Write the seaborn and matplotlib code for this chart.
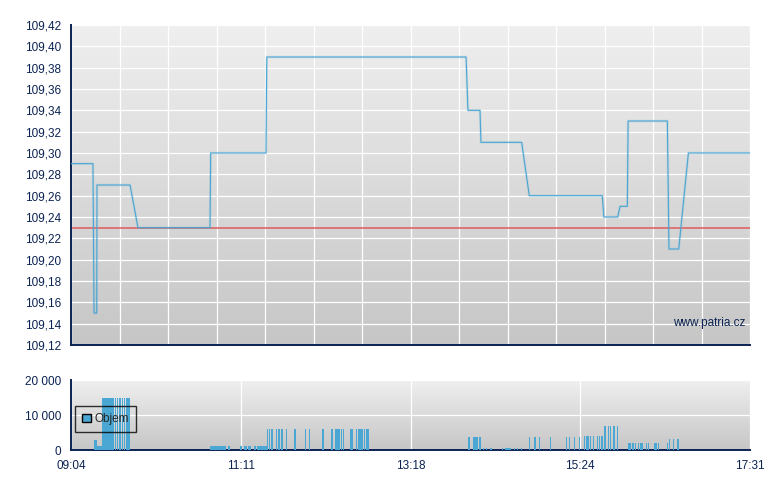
import numpy as np
import pandas as pd
import matplotlib
matplotlib.use("Agg")
import matplotlib.pyplot as plt
import seaborn as sns
from matplotlib.colors import LinearSegmentedColormap
from matplotlib.patches import Patch
from matplotlib.ticker import FuncFormatter

# intraday price, x = minutes after 09:04
price_minute = [0, 16.4, 17.2, 19.2, 19.4, 44.1, 50.0, 103.8, 104.3, 145.6, 146.2,
                295.0, 296.4, 305.4, 306.1, 336.5, 342.2, 396.7, 397.9, 408.2,
                410.0, 415.4, 416.0, 445.3, 446.5, 453.8, 461.0, 507]
price_value = [109.29, 109.29, 109.15, 109.15, 109.27, 109.27, 109.23, 109.23, 109.30,
               109.30, 109.39, 109.39, 109.34, 109.34, 109.31, 109.31, 109.26, 109.26,
               109.24, 109.24, 109.25, 109.25, 109.33, 109.33, 109.21, 109.21, 109.30,
               109.30]
prev_close = 109.23

# volume blocks: start / end minute after 09:04 and traded volume
vol_start = [17.2, 19.2, 23.1, 32.6, 34.3, 36.1, 37.9, 39.6, 41.3,
             103.8, 117.0, 126.2, 129.2, 132.2, 136.9, 138.9,
             146.4, 147.8, 149.1, 153.1, 154.6, 156.8, 160.3, 166.3, 174.7, 177.5,
             187.2, 193.9, 197.1, 201.4, 202.9, 208.1, 212.8, 214.1, 215.3, 218.6, 220.3,
             296.4, 300.2, 304.7,
             307.6, 309.9, 312.9, 321.8, 324.1, 330.8, 333.0, 336.0,
             342.0, 345.7, 349.5, 357.7, 369.6, 371.9, 375.6, 379.3, 383.1, 384.5,
             387.3, 389.8, 392.8, 394.3, 395.8,
             398.0, 401.0, 402.5, 404.7, 407.7,
             416.0, 418.9, 421.2, 423.4, 424.9, 429.4, 430.9, 435.4, 438.1, 444.8,
             446.3, 449.3, 452.3]
vol_end = [19.2, 23.1, 31.9, 33.6, 35.3, 37.1, 38.8, 40.5, 44.1,
           115.5, 118.5, 127.7, 131.2, 134.2, 137.9, 146.4,
           147.1, 148.6, 150.8, 153.8, 156.1, 158.3, 161.3, 168.0, 175.7, 178.5,
           188.9, 195.6, 200.9, 202.4, 203.9, 210.8, 213.8, 215.1, 218.3, 219.8, 222.5,
           297.9, 303.9, 306.1,
           308.4, 310.6, 314.4, 322.6, 328.6, 331.5, 333.8, 336.8,
           342.8, 347.2, 350.2, 358.4, 370.3, 372.6, 376.3, 380.1, 383.8, 386.8,
           388.3, 390.5, 393.5, 395.0, 397.3,
           399.5, 401.7, 403.2, 406.2, 408.5,
           418.2, 420.4, 421.9, 424.1, 427.2, 430.1, 431.6, 437.6, 438.9, 445.5,
           447.0, 450.0, 453.8]
vol_value = [3000, 1200, 15000, 15000, 15000, 15000, 15000, 15000, 15000,
             1200, 1200, 1200, 1200, 1200, 1200, 1200,
             6000, 6000, 6000, 6000, 6000, 6000, 6000, 6000, 6000, 6000,
             6000, 6000, 6000, 6000, 6000, 6000, 6000, 6000, 6000, 6000, 6000,
             3700, 3700, 3700,
             600, 600, 600, 600, 600, 600, 600, 600,
             3700, 3700, 3700, 3700, 3700, 3700, 3700, 3700, 4000, 4000,
             4000, 4000, 4000, 4000, 4000,
             7000, 7000, 7000, 7000, 7000,
             2000, 2000, 2000, 2000, 2000, 2000, 2000, 2000, 2000, 2000,
             3100, 3100, 3100]

time_labels = ["09:04", "11:11", "13:18", "15:24", "17:31"]
session_len = 507

NAVY = "#0b2352"
BLUE = "#4aa6d2"

sns.set_style("white")
plt.rcParams['font.family'] = ['Liberation Sans', 'DejaVu Sans']
plt.rcParams['font.size'] = 8.5

price_df = pd.DataFrame({"minute": price_minute, "price": price_value})
vol_df = pd.DataFrame({"start": vol_start, "end": vol_end, "volume": vol_value})

fig = plt.figure(figsize=(7.8, 4.9), dpi=100)
ax1 = fig.add_axes([71 / 780, 1 - 345 / 490, 679 / 780, 320 / 490])
ax2 = fig.add_axes([71 / 780, 1 - 450 / 490, 679 / 780, 70 / 490])

grad = LinearSegmentedColormap.from_list("bg", ["#efefef", "#c6c6c6"])


def style_axes(ax):
    ax.imshow(np.linspace(0, 1, 256).reshape(-1, 1), cmap=grad, aspect="auto",
              extent=[0, 1, 0, 1], transform=ax.transAxes, zorder=-1)
    ax.set_axisbelow(True)
    ax.grid(True, color="white", lw=0.9)
    for side in ["top", "right"]:
        ax.spines[side].set_visible(False)
    for side in ["left", "bottom"]:
        ax.spines[side].set_color(NAVY)
        ax.spines[side].set_linewidth(1.4)
    ax.tick_params(direction="out", length=5, width=1.2, color=NAVY,
                   labelcolor=NAVY, labelsize=8.5, pad=2)


# price panel
style_axes(ax1)
ax1.axhline(prev_close, color="#e05858", lw=1.2, alpha=0.9, zorder=2)
ax1.plot(price_df["minute"], price_df["price"], color=BLUE, lw=2.0, alpha=0.15, zorder=3)
sns.lineplot(data=price_df, x="minute", y="price", sort=False, estimator=None,
             color=BLUE, lw=0.8, ax=ax1, zorder=4)
ax1.set_xlim(0, session_len)
ax1.set_ylim(109.12, 109.42)
ax1.set_xticks(np.linspace(0, session_len, 15))
ax1.set_xticklabels([])
ax1.set_yticks(np.round(np.arange(109.12, 109.421, 0.02), 2))
ax1.yaxis.set_major_formatter(FuncFormatter(lambda v, p: f"{v:.2f}".replace(".", ",")))
ax1.set_xlabel("")
ax1.set_ylabel("")
ax1.text(0.993, 0.07, "www.patria.cz", transform=ax1.transAxes, ha="right",
         va="center", color=NAVY, fontsize=8.5)

# volume panel
style_axes(ax2)
ax2.bar(vol_df["start"], vol_df["volume"], width=vol_df["end"] - vol_df["start"],
        align="edge", color=BLUE, linewidth=0, antialiased=False, zorder=3)
ax2.set_xlim(0, session_len)
ax2.set_ylim(0, 20000)
ax2.set_xticks(np.linspace(0, session_len, 5))
ax2.set_xticklabels(time_labels)
ax2.set_yticks([0, 10000, 20000])
ax2.yaxis.set_major_formatter(FuncFormatter(lambda v, p: f"{int(v):,}".replace(",", " ")))

leg = ax2.legend(handles=[Patch(facecolor=BLUE, edgecolor="black", lw=1)],
                 labels=["Objem"], loc="center left", bbox_to_anchor=(0.006, 0.443),
                 borderaxespad=0, frameon=True, fancybox=False, handlelength=0.75,
                 handleheight=0.75, handletextpad=0.3, borderpad=0.6, fontsize=8.5)
leg.get_frame().set_facecolor("none")
leg.get_frame().set_edgecolor("black")
leg.get_frame().set_linewidth(1.0)

fig.savefig("out.png", dpi=100)
